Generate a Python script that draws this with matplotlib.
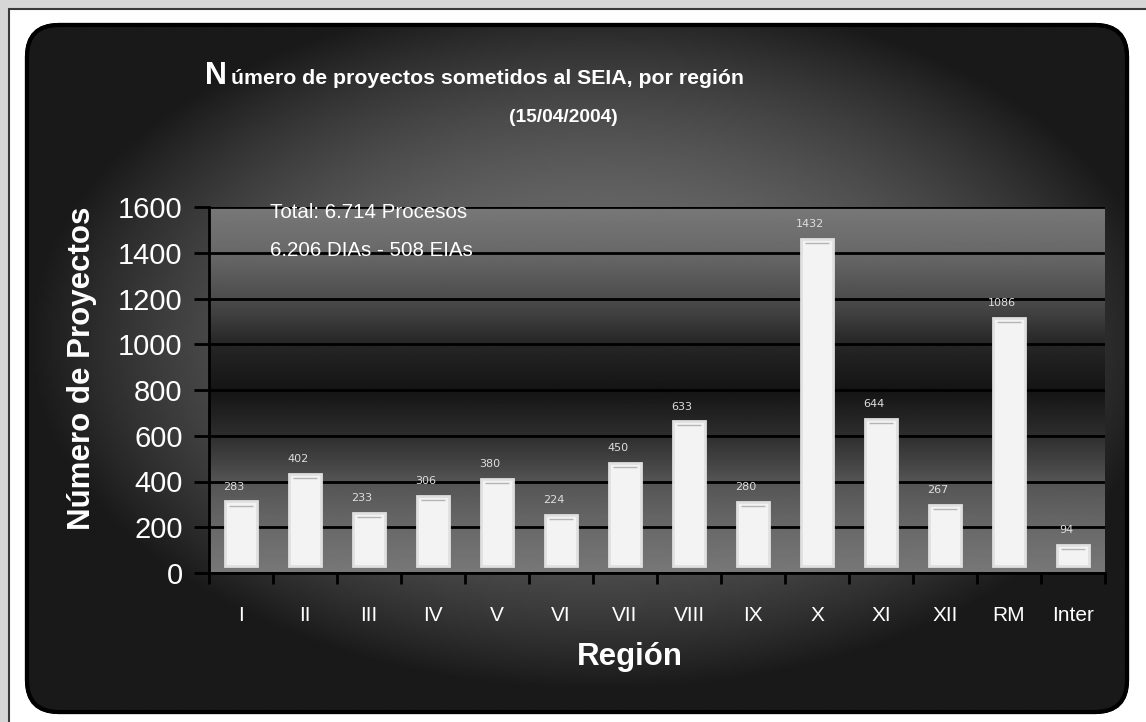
import numpy as np
import matplotlib
matplotlib.use('Agg')
import matplotlib.pyplot as plt
from matplotlib.patches import Rectangle, FancyBboxPatch

plt.rcParams['font.family'] = ['Liberation Sans', 'DejaVu Sans']

# data
regiones = ['I', 'II', 'III', 'IV', 'V', 'VI', 'VII', 'VIII', 'IX', 'X', 'XI', 'XII', 'RM', 'Inter']
proyectos = [283, 402, 233, 306, 380, 224, 450, 633, 280, 1432, 644, 267, 1086, 94]
yticks = [0, 200, 400, 600, 800, 1000, 1200, 1400, 1600]

W, H = 1146, 722
fig = plt.figure(figsize=(W / 100, H / 100), dpi=100)
fig.patch.set_facecolor('#d6d6d6')

# background: white frame + dark rounded panel with radial gradient
bg = fig.add_axes([0, 0, 1, 1])
bg.set_xlim(0, W)
bg.set_ylim(H, 0)
bg.axis('off')
bg.add_patch(Rectangle((9, 9), W + 20, H + 20, facecolor='white', edgecolor='#3a3a3a', lw=1.5))

panel = FancyBboxPatch((27, 25), 1100, 687, boxstyle='round,pad=0,rounding_size=32',
                       facecolor='#222222', edgecolor='black', lw=3, zorder=2)
bg.add_patch(panel)
gx, gy = np.meshgrid(np.linspace(27, 1127, 400), np.linspace(25, 712, 260))
d2 = ((gx - 600) / 620) ** 2 + ((gy - 340) / 380) ** 2
shade = np.clip(0.44 - 0.4 * d2, 0.1, 1)
im = bg.imshow(shade, cmap='gray', vmin=0, vmax=1, extent=(27, 1127, 712, 25),
               aspect='auto', zorder=3, interpolation='bilinear')
im.set_clip_path(panel)
bg.add_patch(FancyBboxPatch((27, 25), 1100, 687, boxstyle='round,pad=0,rounding_size=32',
                            facecolor='none', edgecolor='black', lw=3, zorder=4))

# titles
fig.text(205 / W, 1 - 84 / H, 'N', color='white', fontsize=22, fontweight='bold', va='baseline')
fig.text(231 / W, 1 - 84 / H, 'úmero de proyectos sometidos al SEIA, por región',
         color='white', fontsize=15.3, fontweight='bold', va='baseline')
fig.text(563 / W, 1 - 118 / H, '(15/04/2004)', color='white', fontsize=13.8,
         fontweight='bold', ha='center', va='center')

# plot area
ax = fig.add_axes([209 / W, 1 - 573 / H, 896 / W, 366 / H])
ax.patch.set_visible(False)
ax.set_xlim(-0.5, len(regiones) - 0.5)
ax.set_ylim(0, 1600)

yy = np.linspace(0, 1600, 300)
col = np.interp(yy, [0, 200, 400, 600, 800, 1000, 1200, 1400, 1600],
                [0.47, 0.41, 0.33, 0.18, 0.08, 0.15, 0.3, 0.41, 0.47])
ax.imshow(col[:, None], cmap='gray', vmin=0, vmax=1, origin='lower',
          extent=(-0.5, len(regiones) - 0.5, 0, 1600), aspect='auto', zorder=0)

ax.set_axisbelow(True)
ax.yaxis.grid(True, color='black', lw=2)

floor = 30  # 3D floor offset of the columns
x = np.arange(len(regiones))
vals = np.array(proyectos)
ax.bar(x, vals, width=0.5, bottom=floor, color='#f3f3f3', edgecolor='#e0e0e0', lw=2, zorder=2)
ax.hlines(vals + floor - 18, x - 0.19, x + 0.19, color='#b5b5b5', lw=1, zorder=3)
for xi, v in zip(x, proyectos):
    ax.annotate(str(v), (xi, v + floor), xytext=(-5, 7), textcoords='offset points',
                ha='center', va='bottom', fontsize=8, color='#dedede', family='DejaVu Sans')

ax.text(0.068, 0.984, 'Total: 6.714 Procesos', transform=ax.transAxes, color='white',
        fontsize=14.8, va='center')
ax.text(0.068, 0.88, '6.206 DIAs - 508 EIAs', transform=ax.transAxes, color='white',
        fontsize=14.8, va='center')

for s in ['top', 'right']:
    ax.spines[s].set_visible(False)
for s in ['left', 'bottom']:
    ax.spines[s].set_color('black')
    ax.spines[s].set_linewidth(2)

ax.set_yticks(yticks)
ax.tick_params(axis='y', colors='white', labelsize=21, length=11, width=2, pad=8)
ax.tick_params(axis='y', color='black')
ax.set_xticks(x)
ax.set_xticklabels(regiones)
ax.tick_params(axis='x', which='major', length=0, pad=24, labelsize=15, labelcolor='white')
ax.set_xticks(np.arange(len(regiones) + 1) - 0.5, minor=True)
ax.tick_params(axis='x', which='minor', length=8, width=2, color='black', direction='out')

fig.text(82 / W, 1 - 368 / H, 'Número de Proyectos', rotation=90, color='white',
         fontsize=22.5, fontweight='bold', ha='center', va='center')
fig.text(630 / W, 1 - 657 / H, 'Región', color='white', fontsize=22.5,
         fontweight='bold', ha='center', va='center')

fig.savefig('out.png', dpi=100)
